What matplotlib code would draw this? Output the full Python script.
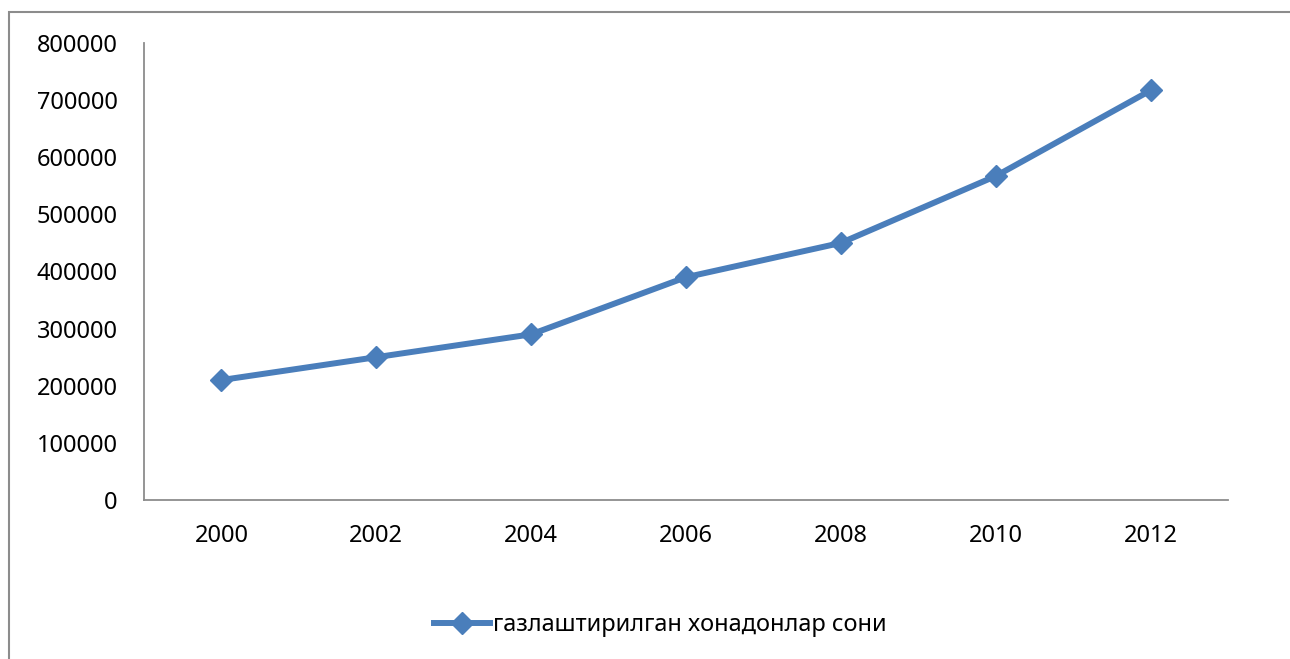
import matplotlib
matplotlib.use("Agg")
import matplotlib.pyplot as plt
from matplotlib.patches import Rectangle

# data
years = ["2000", "2002", "2004", "2006", "2008", "2010", "2012"]
households = [210000, 250000, 290000, 390000, 450000, 567000, 717000]
series_name = "газлаштирилган хонадонлар сони"

plt.rcParams['font.family'] = ['Noto Sans', 'DejaVu Sans']
plt.rcParams['font.size'] = 17

fig = plt.figure(figsize=(12.9, 6.59), dpi=100)
ax = fig.add_axes([144 / 1290, 1 - 500 / 659, (1228 - 144) / 1290, (500 - 43) / 659])

# outer chart frame (right and bottom edges run off the picture)
fig.patches.append(Rectangle((9 / 1290, -0.2), 1.5, 1.2 - 12 / 659, transform=fig.transFigure,
                             fill=False, edgecolor='#8c8c8c', linewidth=1.5))

x = range(len(years))
ax.plot(x, households, color='#4a7ebb', linewidth=4.3, marker='D', markersize=11,
        label=series_name)

ax.set_xlim(-0.5, len(years) - 0.5)
ax.set_ylim(0, 800000)
ax.set_yticks(range(0, 800001, 100000))
ax.set_yticklabels([str(v) for v in range(0, 800001, 100000)])
ax.set_xticks(list(x))
ax.set_xticklabels(years)
ax.tick_params(axis='both', length=0, colors='black')
ax.tick_params(axis='y', pad=19)
ax.tick_params(axis='x', pad=17)

for side in ['top', 'right']:
    ax.spines[side].set_visible(False)
for side in ['left', 'bottom']:
    ax.spines[side].set_color('#8c8c8c')
    ax.spines[side].set_linewidth(1.3)

fig.legend(loc='center', bbox_to_anchor=(660 / 1290, 1 - 625 / 659), frameon=False,
           handlelength=2.4, handletextpad=0.1)

fig.savefig('out.png', dpi=100)
